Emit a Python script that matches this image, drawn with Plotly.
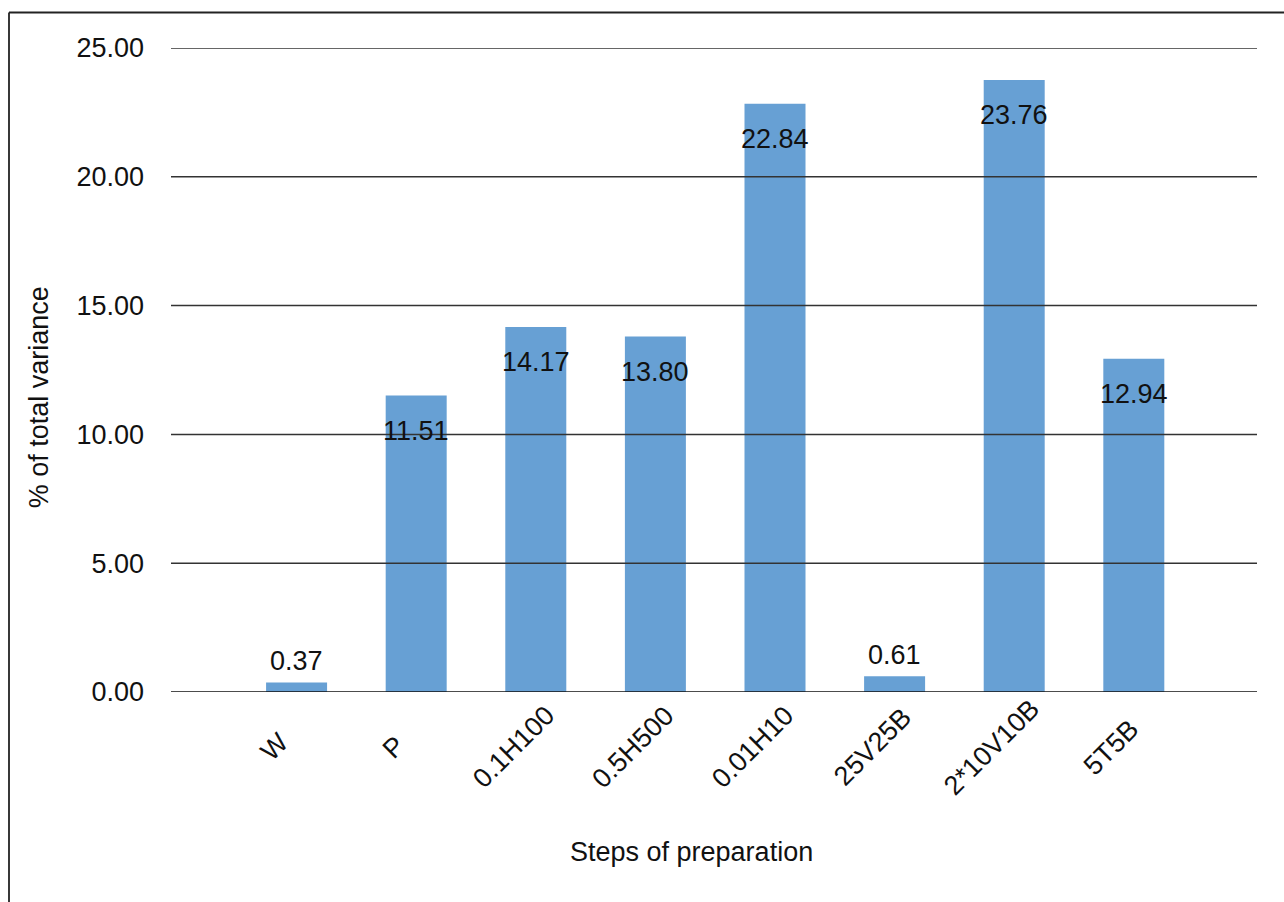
import plotly.graph_objects as go

categories = ["W", "P", "0.1H100", "0.5H500", "0.01H10", "25V25B", "2*10V10B", "5T5B"]
values = [0.37, 11.51, 14.17, 13.80, 22.84, 0.61, 23.76, 12.94]
y_ticks = [0, 5, 10, 15, 20, 25]
y_tick_text = ["0.00", "5.00", "10.00", "15.00", "20.00", "25.00"]

FONT = "Liberation Sans, Arial, Helvetica, sans-serif"
FS = 27
BAR_COLOR = "#67a0d4"
W, H = 1284, 902
ML, MR, MT, MB = 171, 27, 48, 210

x_idx = list(range(len(categories)))

fig = go.Figure()
fig.add_trace(go.Bar(
    x=x_idx, y=values, width=0.51,
    marker=dict(color=BAR_COLOR, line=dict(width=0)),
    hoverinfo="skip", showlegend=False,
))

annotations = []
# data labels
for i, v in zip(x_idx, values):
    if v < 3:
        annotations.append(dict(x=i, y=v, xref="x", yref="y", text=f"{v:.2f}",
                                showarrow=False, yanchor="middle", yshift=21,
                                font=dict(family=FONT, size=FS, color="#111")))
    else:
        annotations.append(dict(x=i, y=v, xref="x", yref="y", text=f"{v:.2f}",
                                showarrow=False, yanchor="middle", yshift=-35,
                                font=dict(family=FONT, size=FS, color="#111")))
# category labels (rotated)
for i, c in zip(x_idx, categories):
    annotations.append(dict(x=i, y=-0.086, xref="x", yref="paper", text=c,
                            showarrow=False, textangle=-45, xanchor="center",
                            yanchor="middle", xshift=-22,
                            font=dict(family=FONT, size=FS, color="#111")))
# axis titles
annotations.append(dict(x=0.4797, y=-0.249, xref="paper", yref="paper",
                        text="Steps of preparation", showarrow=False,
                        xanchor="center", yanchor="middle",
                        font=dict(family=FONT, size=FS, color="#111")))
annotations.append(dict(x=-0.1215, y=0.4576, xref="paper", yref="paper",
                        text="% of total variance", showarrow=False, textangle=-90,
                        xanchor="center", yanchor="middle",
                        font=dict(family=FONT, size=FS, color="#111")))

shapes = []
for t in y_ticks:
    shapes.append(dict(type="line", xref="paper", yref="y", x0=0, x1=1, y0=t, y1=t,
                       layer="above",
                       line=dict(color="#111" if t == 0 else "#333", width=1.5)))

pw = W - ML - MR
ph = H - MT - MB
# outer frame (left and top edges)
fx = (9 - ML) / pw
fy_top = (H - MB - 12.5) / ph
fx_right = (W - ML) / pw + 0.01
fy_bot = (H - MB - H) / ph - 0.01
shapes.append(dict(type="line", xref="paper", yref="paper", x0=fx, x1=fx,
                   y0=fy_bot, y1=fy_top, line=dict(color="#222", width=1.8)))
shapes.append(dict(type="line", xref="paper", yref="paper", x0=fx, x1=fx_right,
                   y0=fy_top, y1=fy_top, line=dict(color="#222", width=1.8)))

fig.update_layout(
    width=W, height=H,
    margin=dict(l=ML, r=MR, t=MT, b=MB, pad=0),
    paper_bgcolor="white", plot_bgcolor="white",
    font=dict(family=FONT, size=FS, color="#111"),
    bargap=0.5,
    xaxis=dict(range=[-1.05, 8.03], showticklabels=False, showgrid=False,
               zeroline=False, showline=False, ticks="", fixedrange=True),
    yaxis=dict(range=[0, 25], tickvals=y_ticks, ticktext=y_tick_text,
               showgrid=False, zeroline=False, showline=False, ticks="",
               ticklabelstandoff=26, tickfont=dict(family=FONT, size=FS, color="#111"),
               fixedrange=True),
    annotations=annotations,
    shapes=shapes,
)

fig.write_html("out.html", config={"displayModeBar": False})
